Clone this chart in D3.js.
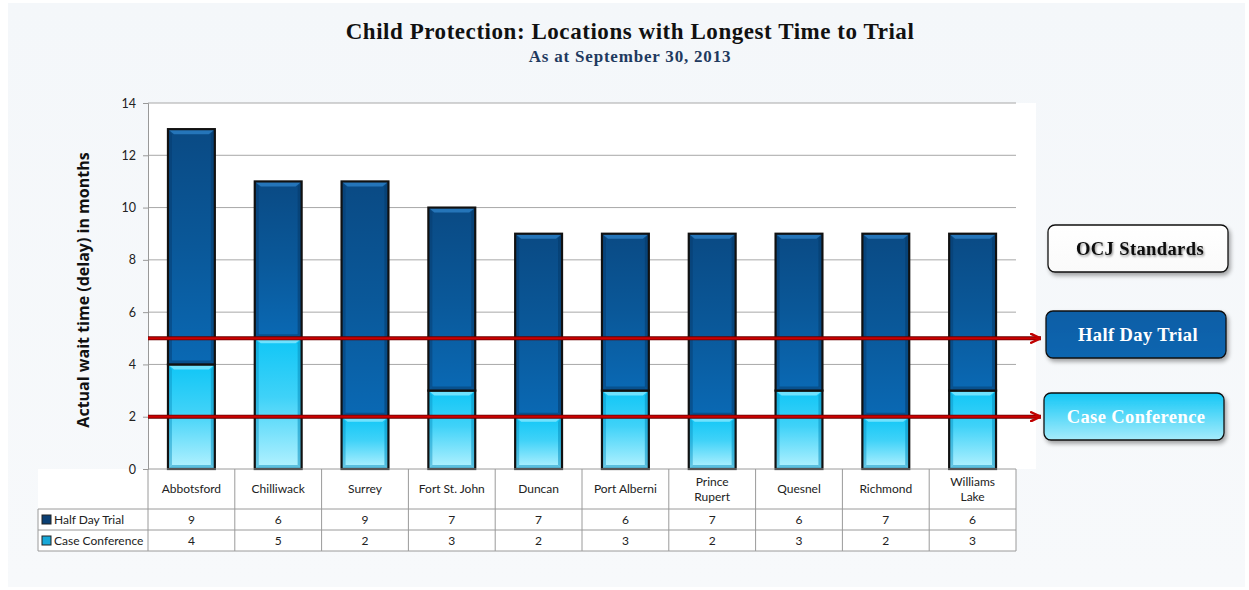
<!DOCTYPE html>
<html>
<head>
<meta charset="utf-8">
<script src="https://cdn.jsdelivr.net/npm/d3@7"></script>
<style>
  html, body { margin: 0; padding: 0; background: #fff; }
  svg { display: block; }
</style>
</head>
<body>
<div id="chart"></div>
<script>
// chart data
const locations = ["Abbotsford", "Chilliwack", "Surrey", "Fort St. John", "Duncan",
  "Port Alberni", "Prince Rupert", "Quesnel", "Richmond", "Williams Lake"];
const locationLines = [["Abbotsford"], ["Chilliwack"], ["Surrey"], ["Fort St. John"], ["Duncan"],
  ["Port Alberni"], ["Prince", "Rupert"], ["Quesnel"], ["Richmond"], ["Williams", "Lake"]];
const halfDayTrial = [9, 6, 9, 7, 7, 6, 7, 6, 7, 6];
const caseConference = [4, 5, 2, 3, 2, 3, 2, 3, 2, 3];
const yTicks = [0, 2, 4, 6, 8, 10, 12, 14];
const standards = [
  { name: "Half Day Trial", value: 5 },
  { name: "Case Conference", value: 2 }
];

const W = 1249, H = 590;
const m = { left: 148, right: 1016, top: 103, bottom: 469 };
const rowH = 21, headH = 40, tableLeft = 38;

const svg = d3.select("#chart").append("svg").attr("width", W).attr("height", H);
const defs = svg.append("defs");

function vgrad(id, stops) {
  const g = defs.append("linearGradient").attr("id", id)
    .attr("x1", 0).attr("y1", 0).attr("x2", 0).attr("y2", 1);
  stops.forEach(([o, c]) => g.append("stop").attr("offset", o).attr("stop-color", c));
}
vgrad("gDark", [[0, "#0a4a84"], [0.5, "#0a5899"], [1, "#0a69b4"]]);
vgrad("gLight", [[0, "#10c6f6"], [0.45, "#3fd2f8"], [1, "#b4f2ff"]]);
vgrad("gBg", [[0, "#f4f7fa"], [1, "#f7f9fb"]]);
vgrad("gBoxDark", [[0, "#0b5ea6"], [1, "#0a66b0"]]);
vgrad("gBoxLight", [[0, "#12c7f6"], [1, "#a6ecfb"]]);
vgrad("gBoxWhite", [[0, "#ffffff"], [1, "#fafafa"]]);

const shadow = defs.append("filter").attr("id", "shadow")
  .attr("x", "-10%").attr("y", "-20%").attr("width", "130%").attr("height", "160%");
shadow.append("feDropShadow").attr("dx", 2).attr("dy", 3).attr("stdDeviation", 2)
  .attr("flood-color", "#000").attr("flood-opacity", 0.35);
const tshadow = defs.append("filter").attr("id", "tshadow")
  .attr("x", "-10%").attr("y", "-30%").attr("width", "130%").attr("height", "170%");
tshadow.append("feDropShadow").attr("dx", 1).attr("dy", 1.5).attr("stdDeviation", 1)
  .attr("flood-color", "#000").attr("flood-opacity", 0.45);

// background panel
svg.append("rect").attr("x", 8).attr("y", 3).attr("width", W - 12).attr("height", H - 6)
  .attr("fill", "url(#gBg)");
svg.append("rect").attr("x", m.left).attr("y", m.top)
  .attr("width", m.right - m.left + 20).attr("height", m.bottom - m.top).attr("fill", "#fff");
svg.append("rect").attr("x", tableLeft).attr("y", m.bottom)
  .attr("width", m.right - tableLeft).attr("height", headH + 2 * rowH).attr("fill", "#fff");

// titles
svg.append("text").attr("x", 630).attr("y", 39).attr("text-anchor", "middle")
  .attr("font-family", "'Liberation Serif', serif").attr("font-weight", "bold")
  .attr("font-size", 23).attr("letter-spacing", 0.55).attr("fill", "#111")
  .text("Child Protection: Locations with Longest Time to Trial");
svg.append("text").attr("x", 630).attr("y", 62).attr("text-anchor", "middle")
  .attr("font-family", "'Liberation Serif', serif").attr("font-weight", "bold")
  .attr("font-size", 17).attr("letter-spacing", 0.8).attr("fill", "#1f3a5f")
  .text("As at September 30, 2013");

const x = d3.scaleBand().domain(locations).range([m.left, m.right]).paddingInner(0.46).paddingOuter(0.23);
const y = d3.scaleLinear().domain([0, 14]).range([m.bottom, m.top]);

// grid
svg.append("g").selectAll("line").data(yTicks.filter(d => d > 0)).join("line")
  .attr("x1", m.left).attr("x2", m.right)
  .attr("y1", d => y(d)).attr("y2", d => y(d))
  .attr("stroke", "#a8a8a8").attr("stroke-width", 1);

// y axis
const yAxis = svg.append("g").attr("transform", `translate(${m.left},0)`)
  .call(d3.axisLeft(y).tickValues(yTicks).tickSize(5).tickPadding(7));
yAxis.select(".domain").attr("stroke", "#999");
yAxis.selectAll(".tick line").attr("stroke", "#999");
yAxis.selectAll("text").attr("font-family", "Lato, sans-serif").attr("font-size", 12.5).attr("fill", "#222");

svg.append("text")
  .attr("transform", `translate(89,${(m.top + m.bottom) / 2 + 4}) rotate(-90)`)
  .attr("text-anchor", "middle")
  .attr("font-family", "'Open Sans', sans-serif").attr("font-weight", "bold")
  .attr("font-size", 16).attr("fill", "#111")
  .text("Actual wait time (delay) in months");

// stacked bars
const stack = locations.map((loc, i) => ({
  loc,
  segs: [
    { key: "cc", y0: 0, y1: caseConference[i], fill: "url(#gLight)", hi: "#7fe6ff", lo: "#0a90c0" },
    { key: "hd", y0: caseConference[i], y1: caseConference[i] + halfDayTrial[i], fill: "url(#gDark)", hi: "#2a7cc2", lo: "#063a6a" }
  ]
}));

const bars = svg.append("g");
stack.forEach(s => {
  const bx = x(s.loc), bw = x.bandwidth();
  s.segs.forEach(seg => {
    const top = y(seg.y1), bot = y(seg.y0), h = bot - top;
    const g = bars.append("g");
    g.append("rect").attr("x", bx).attr("y", top).attr("width", bw).attr("height", h)
      .attr("fill", seg.fill);
    // bevel top
    g.append("path")
      .attr("d", `M${bx},${top}L${bx + bw},${top}L${bx + bw - 6},${top + 5}L${bx + 6},${top + 5}Z`)
      .attr("fill", seg.hi).attr("opacity", 0.85);
    // bevel sides and bottom
    g.append("path")
      .attr("d", `M${bx},${top}L${bx + 4},${top + 5}L${bx + 4},${bot - 4}L${bx},${bot}Z`)
      .attr("fill", seg.lo).attr("opacity", 0.45);
    g.append("path")
      .attr("d", `M${bx + bw},${top}L${bx + bw - 4},${top + 5}L${bx + bw - 4},${bot - 4}L${bx + bw},${bot}Z`)
      .attr("fill", seg.lo).attr("opacity", 0.55);
    g.append("path")
      .attr("d", `M${bx},${bot}L${bx + 4},${bot - 4}L${bx + bw - 4},${bot - 4}L${bx + bw},${bot}Z`)
      .attr("fill", seg.lo).attr("opacity", 0.5);
    g.append("rect").attr("x", bx).attr("y", top).attr("width", bw).attr("height", h)
      .attr("fill", "none").attr("stroke", "#111").attr("stroke-width", 2.2);
  });
});

// standards lines with arrows
defs.append("marker").attr("id", "arrow").attr("viewBox", "0 0 10 10")
  .attr("refX", 9).attr("refY", 5).attr("markerWidth", 5).attr("markerHeight", 5)
  .attr("markerUnits", "strokeWidth").attr("orient", "auto")
  .append("path").attr("d", "M0,0.5L9.5,5L0,9.5").attr("fill", "none")
  .attr("stroke", "#c00000").attr("stroke-width", 2.2);

const stdG = svg.append("g");
standards.forEach(s => {
  stdG.append("line").attr("x1", m.left).attr("x2", 1041)
    .attr("y1", y(s.value)).attr("y2", y(s.value))
    .attr("stroke", "#6a0000").attr("stroke-width", 4);
  stdG.append("line").attr("x1", m.left).attr("x2", 1040)
    .attr("y1", y(s.value)).attr("y2", y(s.value))
    .attr("stroke", "#cc0000").attr("stroke-width", 2.2)
    .attr("marker-end", "url(#arrow)");
});

// data table
const tbl = svg.append("g");
const lineCol = "#9a9a9a";
const rowTop = m.bottom + headH;
const colW = (m.right - m.left) / locations.length;
const boundaries = d3.range(locations.length + 1).map(i => m.left + colW * i);
boundaries.forEach(bx => {
  tbl.append("line").attr("x1", bx).attr("x2", bx)
    .attr("y1", m.bottom).attr("y2", rowTop + 2 * rowH)
    .attr("stroke", lineCol);
});
[rowTop, rowTop + rowH, rowTop + 2 * rowH].forEach(yy => {
  tbl.append("line").attr("x1", tableLeft).attr("x2", m.right)
    .attr("y1", yy).attr("y2", yy).attr("stroke", lineCol);
});
tbl.append("line").attr("x1", tableLeft).attr("x2", tableLeft)
  .attr("y1", rowTop).attr("y2", rowTop + 2 * rowH).attr("stroke", lineCol);
tbl.append("line").attr("x1", m.left).attr("x2", m.right)
  .attr("y1", m.bottom).attr("y2", m.bottom).attr("stroke", lineCol);

const cellFont = "Lato, sans-serif";
locationLines.forEach((lines, i) => {
  const cx = x(locations[i]) + x.bandwidth() / 2;
  const t = tbl.append("text").attr("text-anchor", "middle")
    .attr("font-family", cellFont).attr("font-size", 12).attr("fill", "#222");
  const startY = m.bottom + headH / 2 + 4 - (lines.length - 1) * 7.5;
  lines.forEach((ln, k) => t.append("tspan").attr("x", cx).attr("y", startY + k * 15).text(ln));
});
const rows = [
  { name: "Half Day Trial", vals: halfDayTrial, key: "#0b3f73" },
  { name: "Case Conference", vals: caseConference, key: "#18a8d8" }
];
rows.forEach((r, ri) => {
  const ry = rowTop + ri * rowH;
  tbl.append("rect").attr("x", tableLeft + 4).attr("y", ry + 6).attr("width", 9).attr("height", 9)
    .attr("fill", r.key).attr("stroke", "#222").attr("stroke-width", 1);
  tbl.append("text").attr("x", tableLeft + 16).attr("y", ry + 15)
    .attr("font-family", cellFont).attr("font-size", 12).attr("fill", "#222").text(r.name);
  r.vals.forEach((v, i) => {
    tbl.append("text").attr("x", x(locations[i]) + x.bandwidth() / 2).attr("y", ry + 15)
      .attr("text-anchor", "middle").attr("font-family", cellFont).attr("font-size", 12)
      .attr("fill", "#222").text(v);
  });
});

// standards boxes
const boxes = [
  { label: "OCJ Standards", x: 1048, y: 225, fill: "url(#gBoxWhite)", text: "#111" },
  { label: "Half Day Trial", x: 1046, y: 311, fill: "url(#gBoxDark)", text: "#fff" },
  { label: "Case Conference", x: 1044, y: 393, fill: "url(#gBoxLight)", text: "#fff" }
];
boxes.forEach(b => {
  svg.append("rect").attr("x", b.x).attr("y", b.y).attr("width", 180).attr("height", 47)
    .attr("rx", 7).attr("fill", b.fill).attr("stroke", "#111").attr("stroke-width", 1.3)
    .attr("filter", "url(#shadow)");
  svg.append("text").attr("x", b.x + 92).attr("y", b.y + 30).attr("text-anchor", "middle")
    .attr("font-family", "'Liberation Serif', serif").attr("font-weight", "bold")
    .attr("font-size", 18.5).attr("letter-spacing", 0.4).attr("fill", b.text)
    .attr("filter", b.label === "OCJ Standards" ? "url(#tshadow)" : null)
    .text(b.label);
});
</script>
</body>
</html>
